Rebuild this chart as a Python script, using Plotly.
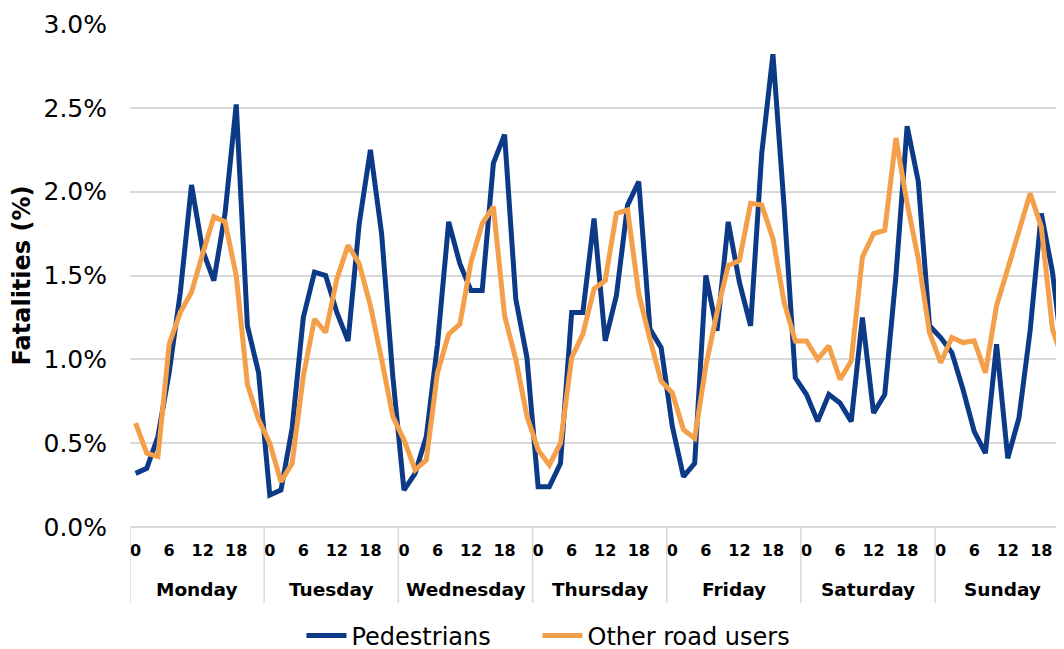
import plotly.graph_objects as go

days = ["Monday", "Tuesday", "Wednesday", "Thursday", "Friday", "Saturday", "Sunday"]
hours = list(range(0, 24, 2))
hour_tick_values = [0, 6, 12, 18]
hour_tick_labels = ["0", "6", "12", "18"]

pedestrians = [
    0.32, 0.35, 0.54, 0.92, 1.40, 2.04, 1.65, 1.47, 1.87, 2.52, 1.20, 0.92,
    0.19, 0.22, 0.59, 1.25, 1.52, 1.50, 1.28, 1.11, 1.81, 2.25, 1.75, 0.90,
    0.22, 0.32, 0.54, 1.09, 1.82, 1.57, 1.41, 1.41, 2.17, 2.34, 1.36, 1.01,
    0.24, 0.24, 0.38, 1.28, 1.28, 1.84, 1.11, 1.38, 1.92, 2.06, 1.18, 1.07,
    0.60, 0.30, 0.38, 1.50, 1.17, 1.82, 1.46, 1.20, 2.23, 2.82, 1.91, 0.89,
    0.79, 0.63, 0.79, 0.74, 0.63, 1.25, 0.68, 0.79, 1.50, 2.39, 2.06, 1.20,
    1.13, 1.04, 0.82, 0.57, 0.44, 1.09, 0.41, 0.65, 1.17, 1.87, 1.52, 0.97,
]
other_road_users = [
    0.62, 0.44, 0.42, 1.09, 1.28, 1.40, 1.63, 1.85, 1.82, 1.50, 0.85, 0.64,
    0.50, 0.27, 0.38, 0.90, 1.24, 1.16, 1.48, 1.68, 1.57, 1.32, 1.00, 0.66,
    0.52, 0.34, 0.40, 0.92, 1.15, 1.21, 1.58, 1.81, 1.91, 1.26, 1.00, 0.66,
    0.46, 0.37, 0.50, 1.01, 1.15, 1.42, 1.47, 1.87, 1.89, 1.39, 1.12, 0.87,
    0.80, 0.58, 0.53, 0.96, 1.28, 1.56, 1.59, 1.93, 1.92, 1.72, 1.34, 1.11,
    1.11, 1.00, 1.08, 0.88, 0.99, 1.61, 1.75, 1.77, 2.32, 1.93, 1.60, 1.16,
    0.98, 1.13, 1.10, 1.11, 0.92, 1.32, 1.54, 1.76, 1.99, 1.79, 1.18, 0.98,
]
y_ticks = [0.0, 0.5, 1.0, 1.5, 2.0, 2.5, 3.0]

n_h = len(hours)
x_idx = list(range(len(days) * n_h))

FONT = "DejaVu Sans"
BLUE = "#0C3A86"
ORANGE = "#F49F4A"
GRID = "#D9D9D9"

fig = go.Figure()
fig.add_trace(go.Scatter(x=x_idx, y=pedestrians, mode="lines", name="Pedestrians",
                         line=dict(color=BLUE, width=5), legend="legend"))
fig.add_trace(go.Scatter(x=x_idx, y=other_road_users, mode="lines", name="Other road users",
                         line=dict(color=ORANGE, width=5), legend="legend2"))

tickvals, ticktext = [], []
for d in range(len(days)):
    for hv, hl in zip(hour_tick_values, hour_tick_labels):
        tickvals.append(d * n_h + hours.index(hv))
        ticktext.append("<b>%s</b>" % hl)

annotations = []
shapes = []
for d, name in enumerate(days):
    annotations.append(dict(x=d * n_h + (n_h - 1) / 2, y=0, xref="x", yref="paper",
                            text="<b>%s</b>" % name, showarrow=False, yshift=-75,
                            font=dict(family=FONT, size=18.5, color="#000000")))
    shapes.append(dict(type="line", xref="x", yref="paper", x0=d * n_h - 0.5, x1=d * n_h - 0.5,
                       y0=0, y1=-0.151, line=dict(color=GRID, width=1.5)))

legend_style = dict(orientation="h", xanchor="left", y=-0.2167, yanchor="middle",
                    font=dict(family=FONT, size=24), itemwidth=40, bgcolor="rgba(0,0,0,0)")

# The page body has an 8px default margin, so the figure is offset to line up with the window.
fig.update_layout(
    width=1056, height=659,
    margin=dict(l=122, r=0, t=16, b=140),
    paper_bgcolor="white", plot_bgcolor="white",
    font=dict(family=FONT, color="#000000"),
    showlegend=True,
    legend=dict(x=0.1836, **legend_style),
    legend2=dict(x=0.4363, **legend_style),
    xaxis=dict(range=[-0.5, 83.03], tickmode="array", tickvals=tickvals, ticktext=ticktext,
               tickfont=dict(family=FONT, size=16), showgrid=False, zeroline=False,
               showline=False, ticks="", ticklabelstandoff=12, automargin=False),
    yaxis=dict(range=[0, 3.0], tickmode="array", tickvals=y_ticks,
               ticktext=["%.1f%%" % v for v in y_ticks],
               tickfont=dict(family=FONT, size=25), showgrid=True, gridcolor=GRID, gridwidth=1.5,
               zeroline=True, zerolinecolor=GRID, zerolinewidth=1.5, ticks="", ticklabelstandoff=22,
               automargin=False,
               title=dict(text="<b>Fatalities (%)</b>", font=dict(family=FONT, size=24), standoff=6)),
    annotations=annotations,
    shapes=shapes,
)

fig.write_html("out.html")
